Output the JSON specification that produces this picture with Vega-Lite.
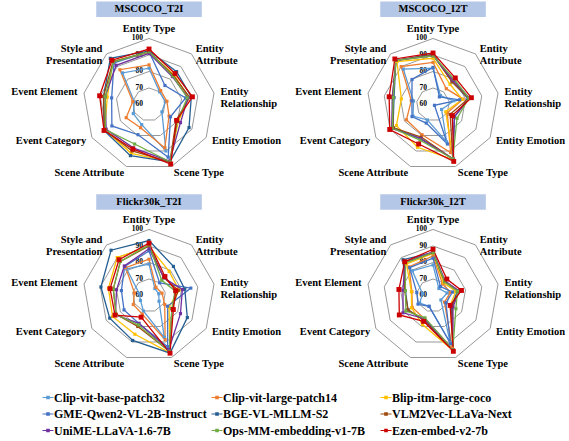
{
"$schema": "https://vega.github.io/schema/vega-lite/v6.json",
"padding": 0,
"background": "white",
"spacing": 0,
"config": {"view": {"stroke": null}, "font": "Liberation Serif",
  "legend": {"labelFont": "Liberation Serif", "labelFontSize": 12, "labelFontWeight": "bold", "labelColor": "black", "symbolSize": 121, "symbolStrokeWidth": 0, "labelOffset": 0, "columnPadding": 4, "rowPadding": 4.5, "labelLimit": 300, "symbolOpacity": 1, "padding": 0, "gridAlign": "all"}},
"datasets": {
"axes": [
{"k":0,"label":"Entity Type"},{"k":1,"label":"Entity\nAttribute"},{"k":2,"label":"Entity\nRelationship"},{"k":3,"label":"Entity Emotion"},{"k":4,"label":"Scene Type"},{"k":5,"label":"Scene Attribute"},{"k":6,"label":"Event Category"},{"k":7,"label":"Event Element"},{"k":8,"label":"Style and\nPresentation"}],
"ticks": [{"tick":60},{"tick":70},{"tick":80},{"tick":90},{"tick":100}],
"grid": [
{"ring":70,"k":0},{"ring":70,"k":1},{"ring":70,"k":2},{"ring":70,"k":3},{"ring":70,"k":4},{"ring":70,"k":5},{"ring":70,"k":6},{"ring":70,"k":7},{"ring":70,"k":8},
{"ring":80,"k":0},{"ring":80,"k":1},{"ring":80,"k":2},{"ring":80,"k":3},{"ring":80,"k":4},{"ring":80,"k":5},{"ring":80,"k":6},{"ring":80,"k":7},{"ring":80,"k":8},
{"ring":90,"k":0},{"ring":90,"k":1},{"ring":90,"k":2},{"ring":90,"k":3},{"ring":90,"k":4},{"ring":90,"k":5},{"ring":90,"k":6},{"ring":90,"k":7},{"ring":90,"k":8},
{"ring":100,"k":0},{"ring":100,"k":1},{"ring":100,"k":2},{"ring":100,"k":3},{"ring":100,"k":4},{"ring":100,"k":5},{"ring":100,"k":6},{"ring":100,"k":7},{"ring":100,"k":8}],
"scores": [
{"panel":"MSCOCO_T2I","model":"Clip-vit-base-patch32","axis":"Entity Type","value":82},
{"panel":"MSCOCO_T2I","model":"Clip-vit-base-patch32","axis":"Entity Attribute","value":70},
{"panel":"MSCOCO_T2I","model":"Clip-vit-base-patch32","axis":"Entity Relationship","value":70},
{"panel":"MSCOCO_T2I","model":"Clip-vit-base-patch32","axis":"Entity Emotion","value":69},
{"panel":"MSCOCO_T2I","model":"Clip-vit-base-patch32","axis":"Scene Type","value":90},
{"panel":"MSCOCO_T2I","model":"Clip-vit-base-patch32","axis":"Scene Attribute","value":73},
{"panel":"MSCOCO_T2I","model":"Clip-vit-base-patch32","axis":"Event Category","value":71},
{"panel":"MSCOCO_T2I","model":"Clip-vit-base-patch32","axis":"Event Element","value":69},
{"panel":"MSCOCO_T2I","model":"Clip-vit-base-patch32","axis":"Style and Presentation","value":85},
{"panel":"MSCOCO_T2I","model":"Clip-vit-large-patch14","axis":"Entity Type","value":84},
{"panel":"MSCOCO_T2I","model":"Clip-vit-large-patch14","axis":"Entity Attribute","value":71},
{"panel":"MSCOCO_T2I","model":"Clip-vit-large-patch14","axis":"Entity Relationship","value":71},
{"panel":"MSCOCO_T2I","model":"Clip-vit-large-patch14","axis":"Entity Emotion","value":74},
{"panel":"MSCOCO_T2I","model":"Clip-vit-large-patch14","axis":"Scene Type","value":88},
{"panel":"MSCOCO_T2I","model":"Clip-vit-large-patch14","axis":"Scene Attribute","value":75},
{"panel":"MSCOCO_T2I","model":"Clip-vit-large-patch14","axis":"Event Category","value":76},
{"panel":"MSCOCO_T2I","model":"Clip-vit-large-patch14","axis":"Event Element","value":70},
{"panel":"MSCOCO_T2I","model":"Clip-vit-large-patch14","axis":"Style and Presentation","value":87.5},
{"panel":"MSCOCO_T2I","model":"Blip-itm-large-coco","axis":"Entity Type","value":91.5},
{"panel":"MSCOCO_T2I","model":"Blip-itm-large-coco","axis":"Entity Attribute","value":83.5},
{"panel":"MSCOCO_T2I","model":"Blip-itm-large-coco","axis":"Entity Relationship","value":84.5},
{"panel":"MSCOCO_T2I","model":"Blip-itm-large-coco","axis":"Entity Emotion","value":80.5},
{"panel":"MSCOCO_T2I","model":"Blip-itm-large-coco","axis":"Scene Type","value":97},
{"panel":"MSCOCO_T2I","model":"Blip-itm-large-coco","axis":"Scene Attribute","value":91.5},
{"panel":"MSCOCO_T2I","model":"Blip-itm-large-coco","axis":"Event Category","value":91},
{"panel":"MSCOCO_T2I","model":"Blip-itm-large-coco","axis":"Event Element","value":85.7},
{"panel":"MSCOCO_T2I","model":"Blip-itm-large-coco","axis":"Style and Presentation","value":94},
{"panel":"MSCOCO_T2I","model":"GME-Qwen2-VL-2B-Instruct","axis":"Entity Type","value":92},
{"panel":"MSCOCO_T2I","model":"GME-Qwen2-VL-2B-Instruct","axis":"Entity Attribute","value":75},
{"panel":"MSCOCO_T2I","model":"GME-Qwen2-VL-2B-Instruct","axis":"Entity Relationship","value":82.5},
{"panel":"MSCOCO_T2I","model":"GME-Qwen2-VL-2B-Instruct","axis":"Entity Emotion","value":75},
{"panel":"MSCOCO_T2I","model":"GME-Qwen2-VL-2B-Instruct","axis":"Scene Type","value":94},
{"panel":"MSCOCO_T2I","model":"GME-Qwen2-VL-2B-Instruct","axis":"Scene Attribute","value":79.5},
{"panel":"MSCOCO_T2I","model":"GME-Qwen2-VL-2B-Instruct","axis":"Event Category","value":86},
{"panel":"MSCOCO_T2I","model":"GME-Qwen2-VL-2B-Instruct","axis":"Event Element","value":83},
{"panel":"MSCOCO_T2I","model":"GME-Qwen2-VL-2B-Instruct","axis":"Style and Presentation","value":93},
{"panel":"MSCOCO_T2I","model":"BGE-VL-MLLM-S2","axis":"Entity Type","value":92.5},
{"panel":"MSCOCO_T2I","model":"BGE-VL-MLLM-S2","axis":"Entity Attribute","value":86},
{"panel":"MSCOCO_T2I","model":"BGE-VL-MLLM-S2","axis":"Entity Relationship","value":86},
{"panel":"MSCOCO_T2I","model":"BGE-VL-MLLM-S2","axis":"Entity Emotion","value":88},
{"panel":"MSCOCO_T2I","model":"BGE-VL-MLLM-S2","axis":"Scene Type","value":97},
{"panel":"MSCOCO_T2I","model":"BGE-VL-MLLM-S2","axis":"Scene Attribute","value":93},
{"panel":"MSCOCO_T2I","model":"BGE-VL-MLLM-S2","axis":"Event Category","value":91.5},
{"panel":"MSCOCO_T2I","model":"BGE-VL-MLLM-S2","axis":"Event Element","value":88},
{"panel":"MSCOCO_T2I","model":"BGE-VL-MLLM-S2","axis":"Style and Presentation","value":96.5},
{"panel":"MSCOCO_T2I","model":"VLM2Vec-LLaVa-Next","axis":"Entity Type","value":92},
{"panel":"MSCOCO_T2I","model":"VLM2Vec-LLaVa-Next","axis":"Entity Attribute","value":83},
{"panel":"MSCOCO_T2I","model":"VLM2Vec-LLaVa-Next","axis":"Entity Relationship","value":85},
{"panel":"MSCOCO_T2I","model":"VLM2Vec-LLaVa-Next","axis":"Entity Emotion","value":79},
{"panel":"MSCOCO_T2I","model":"VLM2Vec-LLaVa-Next","axis":"Scene Type","value":97},
{"panel":"MSCOCO_T2I","model":"VLM2Vec-LLaVa-Next","axis":"Scene Attribute","value":90},
{"panel":"MSCOCO_T2I","model":"VLM2Vec-LLaVa-Next","axis":"Event Category","value":91},
{"panel":"MSCOCO_T2I","model":"VLM2Vec-LLaVa-Next","axis":"Event Element","value":88},
{"panel":"MSCOCO_T2I","model":"VLM2Vec-LLaVa-Next","axis":"Style and Presentation","value":94},
{"panel":"MSCOCO_T2I","model":"UniME-LLaVA-1.6-7B","axis":"Entity Type","value":91},
{"panel":"MSCOCO_T2I","model":"UniME-LLaVA-1.6-7B","axis":"Entity Attribute","value":82},
{"panel":"MSCOCO_T2I","model":"UniME-LLaVA-1.6-7B","axis":"Entity Relationship","value":84},
{"panel":"MSCOCO_T2I","model":"UniME-LLaVA-1.6-7B","axis":"Entity Emotion","value":82},
{"panel":"MSCOCO_T2I","model":"UniME-LLaVA-1.6-7B","axis":"Scene Type","value":96.5},
{"panel":"MSCOCO_T2I","model":"UniME-LLaVA-1.6-7B","axis":"Scene Attribute","value":88},
{"panel":"MSCOCO_T2I","model":"UniME-LLaVA-1.6-7B","axis":"Event Category","value":90},
{"panel":"MSCOCO_T2I","model":"UniME-LLaVA-1.6-7B","axis":"Event Element","value":87},
{"panel":"MSCOCO_T2I","model":"UniME-LLaVA-1.6-7B","axis":"Style and Presentation","value":91},
{"panel":"MSCOCO_T2I","model":"Ops-MM-embedding-v1-7B","axis":"Entity Type","value":92},
{"panel":"MSCOCO_T2I","model":"Ops-MM-embedding-v1-7B","axis":"Entity Attribute","value":82.5},
{"panel":"MSCOCO_T2I","model":"Ops-MM-embedding-v1-7B","axis":"Entity Relationship","value":83.5},
{"panel":"MSCOCO_T2I","model":"Ops-MM-embedding-v1-7B","axis":"Entity Emotion","value":80},
{"panel":"MSCOCO_T2I","model":"Ops-MM-embedding-v1-7B","axis":"Scene Type","value":97},
{"panel":"MSCOCO_T2I","model":"Ops-MM-embedding-v1-7B","axis":"Scene Attribute","value":85.5},
{"panel":"MSCOCO_T2I","model":"Ops-MM-embedding-v1-7B","axis":"Event Category","value":90.5},
{"panel":"MSCOCO_T2I","model":"Ops-MM-embedding-v1-7B","axis":"Event Element","value":87},
{"panel":"MSCOCO_T2I","model":"Ops-MM-embedding-v1-7B","axis":"Style and Presentation","value":93.5},
{"panel":"MSCOCO_T2I","model":"Ezen-embed-v2-7b","axis":"Entity Type","value":93.6},
{"panel":"MSCOCO_T2I","model":"Ezen-embed-v2-7b","axis":"Entity Attribute","value":84.5},
{"panel":"MSCOCO_T2I","model":"Ezen-embed-v2-7b","axis":"Entity Relationship","value":86.7},
{"panel":"MSCOCO_T2I","model":"Ezen-embed-v2-7b","axis":"Entity Emotion","value":79.3},
{"panel":"MSCOCO_T2I","model":"Ezen-embed-v2-7b","axis":"Scene Type","value":98.4},
{"panel":"MSCOCO_T2I","model":"Ezen-embed-v2-7b","axis":"Scene Attribute","value":88.7},
{"panel":"MSCOCO_T2I","model":"Ezen-embed-v2-7b","axis":"Event Category","value":91.5},
{"panel":"MSCOCO_T2I","model":"Ezen-embed-v2-7b","axis":"Event Element","value":90.4},
{"panel":"MSCOCO_T2I","model":"Ezen-embed-v2-7b","axis":"Style and Presentation","value":95},
{"panel":"MSCOCO_I2T","model":"Clip-vit-base-patch32","axis":"Entity Type","value":82},
{"panel":"MSCOCO_I2T","model":"Clip-vit-base-patch32","axis":"Entity Attribute","value":67},
{"panel":"MSCOCO_I2T","model":"Clip-vit-base-patch32","axis":"Entity Relationship","value":72.7},
{"panel":"MSCOCO_I2T","model":"Clip-vit-base-patch32","axis":"Entity Emotion","value":66},
{"panel":"MSCOCO_I2T","model":"Clip-vit-base-patch32","axis":"Scene Type","value":84},
{"panel":"MSCOCO_I2T","model":"Clip-vit-base-patch32","axis":"Scene Attribute","value":70},
{"panel":"MSCOCO_I2T","model":"Clip-vit-base-patch32","axis":"Event Category","value":74},
{"panel":"MSCOCO_I2T","model":"Clip-vit-base-patch32","axis":"Event Element","value":72},
{"panel":"MSCOCO_I2T","model":"Clip-vit-base-patch32","axis":"Style and Presentation","value":88},
{"panel":"MSCOCO_I2T","model":"Clip-vit-large-patch14","axis":"Entity Type","value":85.5},
{"panel":"MSCOCO_I2T","model":"Clip-vit-large-patch14","axis":"Entity Attribute","value":72.5},
{"panel":"MSCOCO_I2T","model":"Clip-vit-large-patch14","axis":"Entity Relationship","value":78.5},
{"panel":"MSCOCO_I2T","model":"Clip-vit-large-patch14","axis":"Entity Emotion","value":70},
{"panel":"MSCOCO_I2T","model":"Clip-vit-large-patch14","axis":"Scene Type","value":91},
{"panel":"MSCOCO_I2T","model":"Clip-vit-large-patch14","axis":"Scene Attribute","value":79.5},
{"panel":"MSCOCO_I2T","model":"Clip-vit-large-patch14","axis":"Event Category","value":78.6},
{"panel":"MSCOCO_I2T","model":"Clip-vit-large-patch14","axis":"Event Element","value":73.4},
{"panel":"MSCOCO_I2T","model":"Clip-vit-large-patch14","axis":"Style and Presentation","value":90},
{"panel":"MSCOCO_I2T","model":"Blip-itm-large-coco","axis":"Entity Type","value":88},
{"panel":"MSCOCO_I2T","model":"Blip-itm-large-coco","axis":"Entity Attribute","value":76},
{"panel":"MSCOCO_I2T","model":"Blip-itm-large-coco","axis":"Entity Relationship","value":78},
{"panel":"MSCOCO_I2T","model":"Blip-itm-large-coco","axis":"Entity Emotion","value":68.9},
{"panel":"MSCOCO_I2T","model":"Blip-itm-large-coco","axis":"Scene Type","value":95.5},
{"panel":"MSCOCO_I2T","model":"Blip-itm-large-coco","axis":"Scene Attribute","value":87.6},
{"panel":"MSCOCO_I2T","model":"Blip-itm-large-coco","axis":"Event Category","value":85.6},
{"panel":"MSCOCO_I2T","model":"Blip-itm-large-coco","axis":"Event Element","value":79.5},
{"panel":"MSCOCO_I2T","model":"Blip-itm-large-coco","axis":"Style and Presentation","value":94},
{"panel":"MSCOCO_I2T","model":"GME-Qwen2-VL-2B-Instruct","axis":"Entity Type","value":82.5},
{"panel":"MSCOCO_I2T","model":"GME-Qwen2-VL-2B-Instruct","axis":"Entity Attribute","value":66},
{"panel":"MSCOCO_I2T","model":"GME-Qwen2-VL-2B-Instruct","axis":"Entity Relationship","value":76.4},
{"panel":"MSCOCO_I2T","model":"GME-Qwen2-VL-2B-Instruct","axis":"Entity Emotion","value":61},
{"panel":"MSCOCO_I2T","model":"GME-Qwen2-VL-2B-Instruct","axis":"Scene Type","value":85.5},
{"panel":"MSCOCO_I2T","model":"GME-Qwen2-VL-2B-Instruct","axis":"Scene Attribute","value":72},
{"panel":"MSCOCO_I2T","model":"GME-Qwen2-VL-2B-Instruct","axis":"Event Category","value":74.7},
{"panel":"MSCOCO_I2T","model":"GME-Qwen2-VL-2B-Instruct","axis":"Event Element","value":73},
{"panel":"MSCOCO_I2T","model":"GME-Qwen2-VL-2B-Instruct","axis":"Style and Presentation","value":79.8},
{"panel":"MSCOCO_I2T","model":"BGE-VL-MLLM-S2","axis":"Entity Type","value":90.5},
{"panel":"MSCOCO_I2T","model":"BGE-VL-MLLM-S2","axis":"Entity Attribute","value":78},
{"panel":"MSCOCO_I2T","model":"BGE-VL-MLLM-S2","axis":"Entity Relationship","value":81.5},
{"panel":"MSCOCO_I2T","model":"BGE-VL-MLLM-S2","axis":"Entity Emotion","value":75},
{"panel":"MSCOCO_I2T","model":"BGE-VL-MLLM-S2","axis":"Scene Type","value":95},
{"panel":"MSCOCO_I2T","model":"BGE-VL-MLLM-S2","axis":"Scene Attribute","value":82},
{"panel":"MSCOCO_I2T","model":"BGE-VL-MLLM-S2","axis":"Event Category","value":88},
{"panel":"MSCOCO_I2T","model":"BGE-VL-MLLM-S2","axis":"Event Element","value":84},
{"panel":"MSCOCO_I2T","model":"BGE-VL-MLLM-S2","axis":"Style and Presentation","value":95},
{"panel":"MSCOCO_I2T","model":"VLM2Vec-LLaVa-Next","axis":"Entity Type","value":90},
{"panel":"MSCOCO_I2T","model":"VLM2Vec-LLaVa-Next","axis":"Entity Attribute","value":78},
{"panel":"MSCOCO_I2T","model":"VLM2Vec-LLaVa-Next","axis":"Entity Relationship","value":82},
{"panel":"MSCOCO_I2T","model":"VLM2Vec-LLaVa-Next","axis":"Entity Emotion","value":72},
{"panel":"MSCOCO_I2T","model":"VLM2Vec-LLaVa-Next","axis":"Scene Type","value":95},
{"panel":"MSCOCO_I2T","model":"VLM2Vec-LLaVa-Next","axis":"Scene Attribute","value":81},
{"panel":"MSCOCO_I2T","model":"VLM2Vec-LLaVa-Next","axis":"Event Category","value":88},
{"panel":"MSCOCO_I2T","model":"VLM2Vec-LLaVa-Next","axis":"Event Element","value":85},
{"panel":"MSCOCO_I2T","model":"VLM2Vec-LLaVa-Next","axis":"Style and Presentation","value":95},
{"panel":"MSCOCO_I2T","model":"UniME-LLaVA-1.6-7B","axis":"Entity Type","value":89.5},
{"panel":"MSCOCO_I2T","model":"UniME-LLaVA-1.6-7B","axis":"Entity Attribute","value":79},
{"panel":"MSCOCO_I2T","model":"UniME-LLaVA-1.6-7B","axis":"Entity Relationship","value":82.5},
{"panel":"MSCOCO_I2T","model":"UniME-LLaVA-1.6-7B","axis":"Entity Emotion","value":75},
{"panel":"MSCOCO_I2T","model":"UniME-LLaVA-1.6-7B","axis":"Scene Type","value":95},
{"panel":"MSCOCO_I2T","model":"UniME-LLaVA-1.6-7B","axis":"Scene Attribute","value":82},
{"panel":"MSCOCO_I2T","model":"UniME-LLaVA-1.6-7B","axis":"Event Category","value":89},
{"panel":"MSCOCO_I2T","model":"UniME-LLaVA-1.6-7B","axis":"Event Element","value":85},
{"panel":"MSCOCO_I2T","model":"UniME-LLaVA-1.6-7B","axis":"Style and Presentation","value":95},
{"panel":"MSCOCO_I2T","model":"Ops-MM-embedding-v1-7B","axis":"Entity Type","value":89.5},
{"panel":"MSCOCO_I2T","model":"Ops-MM-embedding-v1-7B","axis":"Entity Attribute","value":80},
{"panel":"MSCOCO_I2T","model":"Ops-MM-embedding-v1-7B","axis":"Entity Relationship","value":82},
{"panel":"MSCOCO_I2T","model":"Ops-MM-embedding-v1-7B","axis":"Entity Emotion","value":76.8},
{"panel":"MSCOCO_I2T","model":"Ops-MM-embedding-v1-7B","axis":"Scene Type","value":95},
{"panel":"MSCOCO_I2T","model":"Ops-MM-embedding-v1-7B","axis":"Scene Attribute","value":83},
{"panel":"MSCOCO_I2T","model":"Ops-MM-embedding-v1-7B","axis":"Event Category","value":88.5},
{"panel":"MSCOCO_I2T","model":"Ops-MM-embedding-v1-7B","axis":"Event Element","value":84.5},
{"panel":"MSCOCO_I2T","model":"Ops-MM-embedding-v1-7B","axis":"Style and Presentation","value":95},
{"panel":"MSCOCO_I2T","model":"Ezen-embed-v2-7b","axis":"Entity Type","value":91.2},
{"panel":"MSCOCO_I2T","model":"Ezen-embed-v2-7b","axis":"Entity Attribute","value":81},
{"panel":"MSCOCO_I2T","model":"Ezen-embed-v2-7b","axis":"Entity Relationship","value":83.6},
{"panel":"MSCOCO_I2T","model":"Ezen-embed-v2-7b","axis":"Entity Emotion","value":73.5},
{"panel":"MSCOCO_I2T","model":"Ezen-embed-v2-7b","axis":"Scene Type","value":96.7},
{"panel":"MSCOCO_I2T","model":"Ezen-embed-v2-7b","axis":"Scene Attribute","value":85.5},
{"panel":"MSCOCO_I2T","model":"Ezen-embed-v2-7b","axis":"Event Category","value":90.3},
{"panel":"MSCOCO_I2T","model":"Ezen-embed-v2-7b","axis":"Event Element","value":87},
{"panel":"MSCOCO_I2T","model":"Ezen-embed-v2-7b","axis":"Style and Presentation","value":96},
{"panel":"Flickr30k_T2I","model":"Clip-vit-base-patch32","axis":"Entity Type","value":79},
{"panel":"Flickr30k_T2I","model":"Clip-vit-base-patch32","axis":"Entity Attribute","value":65.5},
{"panel":"Flickr30k_T2I","model":"Clip-vit-base-patch32","axis":"Entity Relationship","value":66},
{"panel":"Flickr30k_T2I","model":"Clip-vit-base-patch32","axis":"Entity Emotion","value":67},
{"panel":"Flickr30k_T2I","model":"Clip-vit-base-patch32","axis":"Scene Type","value":87},
{"panel":"Flickr30k_T2I","model":"Clip-vit-base-patch32","axis":"Scene Attribute","value":70},
{"panel":"Flickr30k_T2I","model":"Clip-vit-base-patch32","axis":"Event Category","value":66},
{"panel":"Flickr30k_T2I","model":"Clip-vit-base-patch32","axis":"Event Element","value":66},
{"panel":"Flickr30k_T2I","model":"Clip-vit-base-patch32","axis":"Style and Presentation","value":81},
{"panel":"Flickr30k_T2I","model":"Clip-vit-large-patch14","axis":"Entity Type","value":82},
{"panel":"Flickr30k_T2I","model":"Clip-vit-large-patch14","axis":"Entity Attribute","value":66.5},
{"panel":"Flickr30k_T2I","model":"Clip-vit-large-patch14","axis":"Entity Relationship","value":68},
{"panel":"Flickr30k_T2I","model":"Clip-vit-large-patch14","axis":"Entity Emotion","value":71},
{"panel":"Flickr30k_T2I","model":"Clip-vit-large-patch14","axis":"Scene Type","value":88.5},
{"panel":"Flickr30k_T2I","model":"Clip-vit-large-patch14","axis":"Scene Attribute","value":72},
{"panel":"Flickr30k_T2I","model":"Clip-vit-large-patch14","axis":"Event Category","value":71},
{"panel":"Flickr30k_T2I","model":"Clip-vit-large-patch14","axis":"Event Element","value":69},
{"panel":"Flickr30k_T2I","model":"Clip-vit-large-patch14","axis":"Style and Presentation","value":82},
{"panel":"Flickr30k_T2I","model":"Blip-itm-large-coco","axis":"Entity Type","value":89.7},
{"panel":"Flickr30k_T2I","model":"Blip-itm-large-coco","axis":"Entity Attribute","value":79},
{"panel":"Flickr30k_T2I","model":"Blip-itm-large-coco","axis":"Entity Relationship","value":78.5},
{"panel":"Flickr30k_T2I","model":"Blip-itm-large-coco","axis":"Entity Emotion","value":74},
{"panel":"Flickr30k_T2I","model":"Blip-itm-large-coco","axis":"Scene Type","value":97},
{"panel":"Flickr30k_T2I","model":"Blip-itm-large-coco","axis":"Scene Attribute","value":85},
{"panel":"Flickr30k_T2I","model":"Blip-itm-large-coco","axis":"Event Category","value":85.5},
{"panel":"Flickr30k_T2I","model":"Blip-itm-large-coco","axis":"Event Element","value":85},
{"panel":"Flickr30k_T2I","model":"Blip-itm-large-coco","axis":"Style and Presentation","value":90},
{"panel":"Flickr30k_T2I","model":"GME-Qwen2-VL-2B-Instruct","axis":"Entity Type","value":87},
{"panel":"Flickr30k_T2I","model":"GME-Qwen2-VL-2B-Instruct","axis":"Entity Attribute","value":70},
{"panel":"Flickr30k_T2I","model":"GME-Qwen2-VL-2B-Instruct","axis":"Entity Relationship","value":85.7},
{"panel":"Flickr30k_T2I","model":"GME-Qwen2-VL-2B-Instruct","axis":"Entity Emotion","value":73},
{"panel":"Flickr30k_T2I","model":"GME-Qwen2-VL-2B-Instruct","axis":"Scene Type","value":93},
{"panel":"Flickr30k_T2I","model":"GME-Qwen2-VL-2B-Instruct","axis":"Scene Attribute","value":78},
{"panel":"Flickr30k_T2I","model":"GME-Qwen2-VL-2B-Instruct","axis":"Event Category","value":77.5},
{"panel":"Flickr30k_T2I","model":"GME-Qwen2-VL-2B-Instruct","axis":"Event Element","value":77},
{"panel":"Flickr30k_T2I","model":"GME-Qwen2-VL-2B-Instruct","axis":"Style and Presentation","value":83},
{"panel":"Flickr30k_T2I","model":"BGE-VL-MLLM-S2","axis":"Entity Type","value":93.3},
{"panel":"Flickr30k_T2I","model":"BGE-VL-MLLM-S2","axis":"Entity Attribute","value":83},
{"panel":"Flickr30k_T2I","model":"BGE-VL-MLLM-S2","axis":"Entity Relationship","value":82},
{"panel":"Flickr30k_T2I","model":"BGE-VL-MLLM-S2","axis":"Entity Emotion","value":86.8},
{"panel":"Flickr30k_T2I","model":"BGE-VL-MLLM-S2","axis":"Scene Type","value":97.2},
{"panel":"Flickr30k_T2I","model":"BGE-VL-MLLM-S2","axis":"Scene Attribute","value":89},
{"panel":"Flickr30k_T2I","model":"BGE-VL-MLLM-S2","axis":"Event Category","value":87.5},
{"panel":"Flickr30k_T2I","model":"BGE-VL-MLLM-S2","axis":"Event Element","value":89.6},
{"panel":"Flickr30k_T2I","model":"BGE-VL-MLLM-S2","axis":"Style and Presentation","value":95.8},
{"panel":"Flickr30k_T2I","model":"VLM2Vec-LLaVa-Next","axis":"Entity Type","value":90},
{"panel":"Flickr30k_T2I","model":"VLM2Vec-LLaVa-Next","axis":"Entity Attribute","value":74},
{"panel":"Flickr30k_T2I","model":"VLM2Vec-LLaVa-Next","axis":"Entity Relationship","value":78},
{"panel":"Flickr30k_T2I","model":"VLM2Vec-LLaVa-Next","axis":"Entity Emotion","value":76},
{"panel":"Flickr30k_T2I","model":"VLM2Vec-LLaVa-Next","axis":"Scene Type","value":96},
{"panel":"Flickr30k_T2I","model":"VLM2Vec-LLaVa-Next","axis":"Scene Attribute","value":80},
{"panel":"Flickr30k_T2I","model":"VLM2Vec-LLaVa-Next","axis":"Event Category","value":83},
{"panel":"Flickr30k_T2I","model":"VLM2Vec-LLaVa-Next","axis":"Event Element","value":82},
{"panel":"Flickr30k_T2I","model":"VLM2Vec-LLaVa-Next","axis":"Style and Presentation","value":87},
{"panel":"Flickr30k_T2I","model":"UniME-LLaVA-1.6-7B","axis":"Entity Type","value":88.3},
{"panel":"Flickr30k_T2I","model":"UniME-LLaVA-1.6-7B","axis":"Entity Attribute","value":74},
{"panel":"Flickr30k_T2I","model":"UniME-LLaVA-1.6-7B","axis":"Entity Relationship","value":80.5},
{"panel":"Flickr30k_T2I","model":"UniME-LLaVA-1.6-7B","axis":"Entity Emotion","value":82},
{"panel":"Flickr30k_T2I","model":"UniME-LLaVA-1.6-7B","axis":"Scene Type","value":95},
{"panel":"Flickr30k_T2I","model":"UniME-LLaVA-1.6-7B","axis":"Scene Attribute","value":78},
{"panel":"Flickr30k_T2I","model":"UniME-LLaVA-1.6-7B","axis":"Event Category","value":83.5},
{"panel":"Flickr30k_T2I","model":"UniME-LLaVA-1.6-7B","axis":"Event Element","value":80},
{"panel":"Flickr30k_T2I","model":"UniME-LLaVA-1.6-7B","axis":"Style and Presentation","value":83.3},
{"panel":"Flickr30k_T2I","model":"Ops-MM-embedding-v1-7B","axis":"Entity Type","value":90.7},
{"panel":"Flickr30k_T2I","model":"Ops-MM-embedding-v1-7B","axis":"Entity Attribute","value":72},
{"panel":"Flickr30k_T2I","model":"Ops-MM-embedding-v1-7B","axis":"Entity Relationship","value":76},
{"panel":"Flickr30k_T2I","model":"Ops-MM-embedding-v1-7B","axis":"Entity Emotion","value":76},
{"panel":"Flickr30k_T2I","model":"Ops-MM-embedding-v1-7B","axis":"Scene Type","value":96},
{"panel":"Flickr30k_T2I","model":"Ops-MM-embedding-v1-7B","axis":"Scene Attribute","value":79},
{"panel":"Flickr30k_T2I","model":"Ops-MM-embedding-v1-7B","axis":"Event Category","value":83},
{"panel":"Flickr30k_T2I","model":"Ops-MM-embedding-v1-7B","axis":"Event Element","value":82},
{"panel":"Flickr30k_T2I","model":"Ops-MM-embedding-v1-7B","axis":"Style and Presentation","value":87},
{"panel":"Flickr30k_T2I","model":"Ezen-embed-v2-7b","axis":"Entity Type","value":91.7},
{"panel":"Flickr30k_T2I","model":"Ezen-embed-v2-7b","axis":"Entity Attribute","value":75},
{"panel":"Flickr30k_T2I","model":"Ezen-embed-v2-7b","axis":"Entity Relationship","value":76.4},
{"panel":"Flickr30k_T2I","model":"Ezen-embed-v2-7b","axis":"Entity Emotion","value":77},
{"panel":"Flickr30k_T2I","model":"Ezen-embed-v2-7b","axis":"Scene Type","value":97.2},
{"panel":"Flickr30k_T2I","model":"Ezen-embed-v2-7b","axis":"Scene Attribute","value":74},
{"panel":"Flickr30k_T2I","model":"Ezen-embed-v2-7b","axis":"Event Category","value":83.8},
{"panel":"Flickr30k_T2I","model":"Ezen-embed-v2-7b","axis":"Event Element","value":84},
{"panel":"Flickr30k_T2I","model":"Ezen-embed-v2-7b","axis":"Style and Presentation","value":88.3},
{"panel":"Flickr30k_I2T","model":"Clip-vit-base-patch32","axis":"Entity Type","value":78.5},
{"panel":"Flickr30k_I2T","model":"Clip-vit-base-patch32","axis":"Entity Attribute","value":65.5},
{"panel":"Flickr30k_I2T","model":"Clip-vit-base-patch32","axis":"Entity Relationship","value":68.7},
{"panel":"Flickr30k_I2T","model":"Clip-vit-base-patch32","axis":"Entity Emotion","value":65.5},
{"panel":"Flickr30k_I2T","model":"Clip-vit-base-patch32","axis":"Scene Type","value":90.5},
{"panel":"Flickr30k_I2T","model":"Clip-vit-base-patch32","axis":"Scene Attribute","value":67},
{"panel":"Flickr30k_I2T","model":"Clip-vit-base-patch32","axis":"Event Category","value":69.3},
{"panel":"Flickr30k_I2T","model":"Clip-vit-base-patch32","axis":"Event Element","value":66.5},
{"panel":"Flickr30k_I2T","model":"Clip-vit-base-patch32","axis":"Style and Presentation","value":79.5},
{"panel":"Flickr30k_I2T","model":"Clip-vit-large-patch14","axis":"Entity Type","value":84},
{"panel":"Flickr30k_I2T","model":"Clip-vit-large-patch14","axis":"Entity Attribute","value":69},
{"panel":"Flickr30k_I2T","model":"Clip-vit-large-patch14","axis":"Entity Relationship","value":70.7},
{"panel":"Flickr30k_I2T","model":"Clip-vit-large-patch14","axis":"Entity Emotion","value":68},
{"panel":"Flickr30k_I2T","model":"Clip-vit-large-patch14","axis":"Scene Type","value":94},
{"panel":"Flickr30k_I2T","model":"Clip-vit-large-patch14","axis":"Scene Attribute","value":75},
{"panel":"Flickr30k_I2T","model":"Clip-vit-large-patch14","axis":"Event Category","value":74.5},
{"panel":"Flickr30k_I2T","model":"Clip-vit-large-patch14","axis":"Event Element","value":73},
{"panel":"Flickr30k_I2T","model":"Clip-vit-large-patch14","axis":"Style and Presentation","value":82.6},
{"panel":"Flickr30k_I2T","model":"Blip-itm-large-coco","axis":"Entity Type","value":85.5},
{"panel":"Flickr30k_I2T","model":"Blip-itm-large-coco","axis":"Entity Attribute","value":70},
{"panel":"Flickr30k_I2T","model":"Blip-itm-large-coco","axis":"Entity Relationship","value":74},
{"panel":"Flickr30k_I2T","model":"Blip-itm-large-coco","axis":"Entity Emotion","value":72},
{"panel":"Flickr30k_I2T","model":"Blip-itm-large-coco","axis":"Scene Type","value":95.5},
{"panel":"Flickr30k_I2T","model":"Blip-itm-large-coco","axis":"Scene Attribute","value":78.7},
{"panel":"Flickr30k_I2T","model":"Blip-itm-large-coco","axis":"Event Category","value":75},
{"panel":"Flickr30k_I2T","model":"Blip-itm-large-coco","axis":"Event Element","value":73.3},
{"panel":"Flickr30k_I2T","model":"Blip-itm-large-coco","axis":"Style and Presentation","value":85},
{"panel":"Flickr30k_I2T","model":"GME-Qwen2-VL-2B-Instruct","axis":"Entity Type","value":82.6},
{"panel":"Flickr30k_I2T","model":"GME-Qwen2-VL-2B-Instruct","axis":"Entity Attribute","value":67},
{"panel":"Flickr30k_I2T","model":"GME-Qwen2-VL-2B-Instruct","axis":"Entity Relationship","value":72},
{"panel":"Flickr30k_I2T","model":"GME-Qwen2-VL-2B-Instruct","axis":"Entity Emotion","value":69},
{"panel":"Flickr30k_I2T","model":"GME-Qwen2-VL-2B-Instruct","axis":"Scene Type","value":91},
{"panel":"Flickr30k_I2T","model":"GME-Qwen2-VL-2B-Instruct","axis":"Scene Attribute","value":67},
{"panel":"Flickr30k_I2T","model":"GME-Qwen2-VL-2B-Instruct","axis":"Event Category","value":70.5},
{"panel":"Flickr30k_I2T","model":"GME-Qwen2-VL-2B-Instruct","axis":"Event Element","value":70},
{"panel":"Flickr30k_I2T","model":"GME-Qwen2-VL-2B-Instruct","axis":"Style and Presentation","value":82},
{"panel":"Flickr30k_I2T","model":"BGE-VL-MLLM-S2","axis":"Entity Type","value":86},
{"panel":"Flickr30k_I2T","model":"BGE-VL-MLLM-S2","axis":"Entity Attribute","value":71},
{"panel":"Flickr30k_I2T","model":"BGE-VL-MLLM-S2","axis":"Entity Relationship","value":75},
{"panel":"Flickr30k_I2T","model":"BGE-VL-MLLM-S2","axis":"Entity Emotion","value":73},
{"panel":"Flickr30k_I2T","model":"BGE-VL-MLLM-S2","axis":"Scene Type","value":95},
{"panel":"Flickr30k_I2T","model":"BGE-VL-MLLM-S2","axis":"Scene Attribute","value":76},
{"panel":"Flickr30k_I2T","model":"BGE-VL-MLLM-S2","axis":"Event Category","value":77.5},
{"panel":"Flickr30k_I2T","model":"BGE-VL-MLLM-S2","axis":"Event Element","value":77},
{"panel":"Flickr30k_I2T","model":"BGE-VL-MLLM-S2","axis":"Style and Presentation","value":88.3},
{"panel":"Flickr30k_I2T","model":"VLM2Vec-LLaVa-Next","axis":"Entity Type","value":86},
{"panel":"Flickr30k_I2T","model":"VLM2Vec-LLaVa-Next","axis":"Entity Attribute","value":71},
{"panel":"Flickr30k_I2T","model":"VLM2Vec-LLaVa-Next","axis":"Entity Relationship","value":76},
{"panel":"Flickr30k_I2T","model":"VLM2Vec-LLaVa-Next","axis":"Entity Emotion","value":73.5},
{"panel":"Flickr30k_I2T","model":"VLM2Vec-LLaVa-Next","axis":"Scene Type","value":95},
{"panel":"Flickr30k_I2T","model":"VLM2Vec-LLaVa-Next","axis":"Scene Attribute","value":76},
{"panel":"Flickr30k_I2T","model":"VLM2Vec-LLaVa-Next","axis":"Event Category","value":77.5},
{"panel":"Flickr30k_I2T","model":"VLM2Vec-LLaVa-Next","axis":"Event Element","value":77.5},
{"panel":"Flickr30k_I2T","model":"VLM2Vec-LLaVa-Next","axis":"Style and Presentation","value":86},
{"panel":"Flickr30k_I2T","model":"UniME-LLaVA-1.6-7B","axis":"Entity Type","value":86.5},
{"panel":"Flickr30k_I2T","model":"UniME-LLaVA-1.6-7B","axis":"Entity Attribute","value":71.5},
{"panel":"Flickr30k_I2T","model":"UniME-LLaVA-1.6-7B","axis":"Entity Relationship","value":76},
{"panel":"Flickr30k_I2T","model":"UniME-LLaVA-1.6-7B","axis":"Entity Emotion","value":74},
{"panel":"Flickr30k_I2T","model":"UniME-LLaVA-1.6-7B","axis":"Scene Type","value":95},
{"panel":"Flickr30k_I2T","model":"UniME-LLaVA-1.6-7B","axis":"Scene Attribute","value":75},
{"panel":"Flickr30k_I2T","model":"UniME-LLaVA-1.6-7B","axis":"Event Category","value":81},
{"panel":"Flickr30k_I2T","model":"UniME-LLaVA-1.6-7B","axis":"Event Element","value":78.5},
{"panel":"Flickr30k_I2T","model":"UniME-LLaVA-1.6-7B","axis":"Style and Presentation","value":86.5},
{"panel":"Flickr30k_I2T","model":"Ops-MM-embedding-v1-7B","axis":"Entity Type","value":86},
{"panel":"Flickr30k_I2T","model":"Ops-MM-embedding-v1-7B","axis":"Entity Attribute","value":71},
{"panel":"Flickr30k_I2T","model":"Ops-MM-embedding-v1-7B","axis":"Entity Relationship","value":75},
{"panel":"Flickr30k_I2T","model":"Ops-MM-embedding-v1-7B","axis":"Entity Emotion","value":76},
{"panel":"Flickr30k_I2T","model":"Ops-MM-embedding-v1-7B","axis":"Scene Type","value":95},
{"panel":"Flickr30k_I2T","model":"Ops-MM-embedding-v1-7B","axis":"Scene Attribute","value":74.4},
{"panel":"Flickr30k_I2T","model":"Ops-MM-embedding-v1-7B","axis":"Event Category","value":79},
{"panel":"Flickr30k_I2T","model":"Ops-MM-embedding-v1-7B","axis":"Event Element","value":77},
{"panel":"Flickr30k_I2T","model":"Ops-MM-embedding-v1-7B","axis":"Style and Presentation","value":86},
{"panel":"Flickr30k_I2T","model":"Ezen-embed-v2-7b","axis":"Entity Type","value":88},
{"panel":"Flickr30k_I2T","model":"Ezen-embed-v2-7b","axis":"Entity Attribute","value":73},
{"panel":"Flickr30k_I2T","model":"Ezen-embed-v2-7b","axis":"Entity Relationship","value":77.5},
{"panel":"Flickr30k_I2T","model":"Ezen-embed-v2-7b","axis":"Entity Emotion","value":72},
{"panel":"Flickr30k_I2T","model":"Ezen-embed-v2-7b","axis":"Scene Type","value":96},
{"panel":"Flickr30k_I2T","model":"Ezen-embed-v2-7b","axis":"Scene Attribute","value":76.7},
{"panel":"Flickr30k_I2T","model":"Ezen-embed-v2-7b","axis":"Event Category","value":83.6},
{"panel":"Flickr30k_I2T","model":"Ezen-embed-v2-7b","axis":"Event Element","value":81},
{"panel":"Flickr30k_I2T","model":"Ezen-embed-v2-7b","axis":"Style and Presentation","value":86.7}
]
},
"vconcat": [
{"spacing": 0, "hconcat": [
{"width": 284, "height": 191,
 "layer": [
  {"data": {"values": [{"title": "MSCOCO_T2I"}]}, "mark": {"type": "rect", "color": "#B4C7E7"}, "encoding": {"x": {"datum": -0.8, "type": "quantitative", "scale": {"domain": [-2.258, 2.045], "nice": false, "zero": false}, "axis": null}, "x2": {"datum": 0.8}, "y": {"datum": 1.56, "type": "quantitative", "scale": {"domain": [-1.311, 1.583], "nice": false, "zero": false}, "axis": null}, "y2": {"datum": 1.325}}},
  {"data": {"values": [{"title": "MSCOCO_T2I"}]}, "mark": {"type": "text", "font": "Liberation Serif", "fontWeight": "bold", "fontSize": 10.5, "baseline": "middle", "color": "black"}, "encoding": {"x": {"datum": 0, "type": "quantitative", "scale": {"domain": [-2.258, 2.045], "nice": false, "zero": false}, "axis": null}, "y": {"datum": 1.443, "type": "quantitative", "scale": {"domain": [-1.311, 1.583], "nice": false, "zero": false}, "axis": null}, "text": {"field": "title"}}},
  {"data": {"name": "grid"}, "transform": [{"calculate": "(datum.ring-60)/40*sin(datum.k*2*PI/9)", "as": "x"}, {"calculate": "(datum.ring-60)/40*cos(datum.k*2*PI/9)", "as": "y"}], "mark": {"type": "line", "interpolate": "linear-closed", "color": "#8C8C8C", "strokeWidth": 0.9}, "encoding": {"x": {"field": "x", "type": "quantitative", "scale": {"domain": [-2.258, 2.045], "nice": false, "zero": false}, "axis": null}, "y": {"field": "y", "type": "quantitative", "scale": {"domain": [-1.311, 1.583], "nice": false, "zero": false}, "axis": null}, "detail": {"field": "ring", "type": "nominal"}, "order": {"field": "k", "type": "quantitative"}}},
  {"data": {"name": "ticks"}, "transform": [{"calculate": "0", "as": "x"}, {"calculate": "(datum.tick-60)/40", "as": "y"}], "mark": {"type": "text", "align": "right", "baseline": "middle", "dx": -6, "fontSize": 7.5, "fontWeight": "bold", "font": "Liberation Serif", "color": "black"}, "encoding": {"x": {"field": "x", "type": "quantitative", "scale": {"domain": [-2.258, 2.045], "nice": false, "zero": false}, "axis": null}, "y": {"field": "y", "type": "quantitative", "scale": {"domain": [-1.311, 1.583], "nice": false, "zero": false}, "axis": null}, "text": {"field": "tick", "type": "quantitative"}}},
  {"data": {"name": "axes"}, "transform": [{"filter": "datum.k==0"}, {"calculate": "1.1*sin(datum.k*2*PI/9)", "as": "x"}, {"calculate": "1.1*cos(datum.k*2*PI/9)", "as": "y"}], "mark": {"type": "text", "align": "center", "baseline": "middle", "dy": -3, "fontSize": 10.5, "fontWeight": "bold", "font": "Liberation Serif", "lineBreak": "\n", "lineHeight": 12.5, "color": "black"}, "encoding": {"x": {"field": "x", "type": "quantitative", "scale": {"domain": [-2.258, 2.045], "nice": false, "zero": false}, "axis": null}, "y": {"field": "y", "type": "quantitative", "scale": {"domain": [-1.311, 1.583], "nice": false, "zero": false}, "axis": null}, "text": {"field": "label"}}},
  {"data": {"name": "axes"}, "transform": [{"filter": "datum.k>=1 && datum.k<=4"}, {"calculate": "1.1*sin(datum.k*2*PI/9)", "as": "x"}, {"calculate": "1.1*cos(datum.k*2*PI/9)", "as": "y"}], "mark": {"type": "text", "align": "left", "baseline": "middle", "fontSize": 10.5, "fontWeight": "bold", "font": "Liberation Serif", "lineBreak": "\n", "lineHeight": 12.5, "color": "black"}, "encoding": {"x": {"field": "x", "type": "quantitative", "scale": {"domain": [-2.258, 2.045], "nice": false, "zero": false}, "axis": null}, "y": {"field": "y", "type": "quantitative", "scale": {"domain": [-1.311, 1.583], "nice": false, "zero": false}, "axis": null}, "text": {"field": "label"}}},
  {"data": {"name": "axes"}, "transform": [{"filter": "datum.k>=5"}, {"calculate": "1.1*sin(datum.k*2*PI/9)", "as": "x"}, {"calculate": "1.1*cos(datum.k*2*PI/9)", "as": "y"}], "mark": {"type": "text", "align": "right", "baseline": "middle", "fontSize": 10.5, "fontWeight": "bold", "font": "Liberation Serif", "lineBreak": "\n", "lineHeight": 12.5, "color": "black"}, "encoding": {"x": {"field": "x", "type": "quantitative", "scale": {"domain": [-2.258, 2.045], "nice": false, "zero": false}, "axis": null}, "y": {"field": "y", "type": "quantitative", "scale": {"domain": [-1.311, 1.583], "nice": false, "zero": false}, "axis": null}, "text": {"field": "label"}}},
  {"data": {"name": "scores"}, "transform": [{"filter": "datum.panel==='MSCOCO_T2I'"}, {"calculate": "indexof(['Entity Type','Entity Attribute','Entity Relationship','Entity Emotion','Scene Type','Scene Attribute','Event Category','Event Element','Style and Presentation'], datum.axis)", "as": "k"}, {"calculate": "(datum.value-60)/40*sin(datum.k*2*PI/9)", "as": "x"}, {"calculate": "(datum.value-60)/40*cos(datum.k*2*PI/9)", "as": "y"}], "mark": {"type": "line", "interpolate": "linear-closed", "strokeWidth": 1.3}, "encoding": {"x": {"field": "x", "type": "quantitative", "scale": {"domain": [-2.258, 2.045], "nice": false, "zero": false}, "axis": null}, "y": {"field": "y", "type": "quantitative", "scale": {"domain": [-1.311, 1.583], "nice": false, "zero": false}, "axis": null}, "color": {"field": "model", "type": "nominal", "scale": {"domain": ["Clip-vit-base-patch32","Clip-vit-large-patch14","Blip-itm-large-coco","GME-Qwen2-VL-2B-Instruct","BGE-VL-MLLM-S2","VLM2Vec-LLaVa-Next","UniME-LLaVA-1.6-7B","Ops-MM-embedding-v1-7B","Ezen-embed-v2-7b"], "range": ["#5B9BD5","#ED7D31","#FFC000","#4472C4","#255E91","#9E480E","#7030A0","#70AD47","#CC0000"]}, "legend": {"orient": "none", "legendX": 42, "legendY": 391.5, "columns": 3, "direction": "horizontal", "title": null, "symbolType": "M-1,-0.09H1V0.09H-1Z M-0.33,-0.33H0.33V0.33H-0.33Z"}}, "order": {"field": "k", "type": "quantitative"}}},
  {"data": {"name": "scores"}, "transform": [{"filter": "datum.panel==='MSCOCO_T2I'"}, {"calculate": "indexof(['Entity Type','Entity Attribute','Entity Relationship','Entity Emotion','Scene Type','Scene Attribute','Event Category','Event Element','Style and Presentation'], datum.axis)", "as": "k"}, {"calculate": "(datum.value-60)/40*sin(datum.k*2*PI/9)", "as": "x"}, {"calculate": "(datum.value-60)/40*cos(datum.k*2*PI/9)", "as": "y"}], "mark": {"type": "point", "shape": "square", "filled": true, "opacity": 1}, "encoding": {"x": {"field": "x", "type": "quantitative", "scale": {"domain": [-2.258, 2.045], "nice": false, "zero": false}, "axis": null}, "y": {"field": "y", "type": "quantitative", "scale": {"domain": [-1.311, 1.583], "nice": false, "zero": false}, "axis": null}, "color": {"field": "model", "type": "nominal", "scale": {"domain": ["Clip-vit-base-patch32","Clip-vit-large-patch14","Blip-itm-large-coco","GME-Qwen2-VL-2B-Instruct","BGE-VL-MLLM-S2","VLM2Vec-LLaVa-Next","UniME-LLaVA-1.6-7B","Ops-MM-embedding-v1-7B","Ezen-embed-v2-7b"], "range": ["#5B9BD5","#ED7D31","#FFC000","#4472C4","#255E91","#9E480E","#7030A0","#70AD47","#CC0000"]}, "legend": {"orient": "none", "legendX": 42, "legendY": 391.5, "columns": 3, "direction": "horizontal", "title": null, "symbolType": "M-1,-0.09H1V0.09H-1Z M-0.33,-0.33H0.33V0.33H-0.33Z"}}, "size": {"condition": {"test": "datum.model==='Ezen-embed-v2-7b'", "value": 24}, "value": 10}}}
 ]},
{"width": 284, "height": 191,
 "layer": [
  {"data": {"values": [{"title": "MSCOCO_I2T"}]}, "mark": {"type": "rect", "color": "#B4C7E7"}, "encoding": {"x": {"datum": -0.8, "type": "quantitative", "scale": {"domain": [-2.258, 2.045], "nice": false, "zero": false}, "axis": null}, "x2": {"datum": 0.8}, "y": {"datum": 1.56, "type": "quantitative", "scale": {"domain": [-1.311, 1.583], "nice": false, "zero": false}, "axis": null}, "y2": {"datum": 1.325}}},
  {"data": {"values": [{"title": "MSCOCO_I2T"}]}, "mark": {"type": "text", "font": "Liberation Serif", "fontWeight": "bold", "fontSize": 10.5, "baseline": "middle", "color": "black"}, "encoding": {"x": {"datum": 0, "type": "quantitative", "scale": {"domain": [-2.258, 2.045], "nice": false, "zero": false}, "axis": null}, "y": {"datum": 1.443, "type": "quantitative", "scale": {"domain": [-1.311, 1.583], "nice": false, "zero": false}, "axis": null}, "text": {"field": "title"}}},
  {"data": {"name": "grid"}, "transform": [{"calculate": "(datum.ring-60)/40*sin(datum.k*2*PI/9)", "as": "x"}, {"calculate": "(datum.ring-60)/40*cos(datum.k*2*PI/9)", "as": "y"}], "mark": {"type": "line", "interpolate": "linear-closed", "color": "#8C8C8C", "strokeWidth": 0.9}, "encoding": {"x": {"field": "x", "type": "quantitative", "scale": {"domain": [-2.258, 2.045], "nice": false, "zero": false}, "axis": null}, "y": {"field": "y", "type": "quantitative", "scale": {"domain": [-1.311, 1.583], "nice": false, "zero": false}, "axis": null}, "detail": {"field": "ring", "type": "nominal"}, "order": {"field": "k", "type": "quantitative"}}},
  {"data": {"name": "ticks"}, "transform": [{"calculate": "0", "as": "x"}, {"calculate": "(datum.tick-60)/40", "as": "y"}], "mark": {"type": "text", "align": "right", "baseline": "middle", "dx": -6, "fontSize": 7.5, "fontWeight": "bold", "font": "Liberation Serif", "color": "black"}, "encoding": {"x": {"field": "x", "type": "quantitative", "scale": {"domain": [-2.258, 2.045], "nice": false, "zero": false}, "axis": null}, "y": {"field": "y", "type": "quantitative", "scale": {"domain": [-1.311, 1.583], "nice": false, "zero": false}, "axis": null}, "text": {"field": "tick", "type": "quantitative"}}},
  {"data": {"name": "axes"}, "transform": [{"filter": "datum.k==0"}, {"calculate": "1.1*sin(datum.k*2*PI/9)", "as": "x"}, {"calculate": "1.1*cos(datum.k*2*PI/9)", "as": "y"}], "mark": {"type": "text", "align": "center", "baseline": "middle", "dy": -3, "fontSize": 10.5, "fontWeight": "bold", "font": "Liberation Serif", "lineBreak": "\n", "lineHeight": 12.5, "color": "black"}, "encoding": {"x": {"field": "x", "type": "quantitative", "scale": {"domain": [-2.258, 2.045], "nice": false, "zero": false}, "axis": null}, "y": {"field": "y", "type": "quantitative", "scale": {"domain": [-1.311, 1.583], "nice": false, "zero": false}, "axis": null}, "text": {"field": "label"}}},
  {"data": {"name": "axes"}, "transform": [{"filter": "datum.k>=1 && datum.k<=4"}, {"calculate": "1.1*sin(datum.k*2*PI/9)", "as": "x"}, {"calculate": "1.1*cos(datum.k*2*PI/9)", "as": "y"}], "mark": {"type": "text", "align": "left", "baseline": "middle", "fontSize": 10.5, "fontWeight": "bold", "font": "Liberation Serif", "lineBreak": "\n", "lineHeight": 12.5, "color": "black"}, "encoding": {"x": {"field": "x", "type": "quantitative", "scale": {"domain": [-2.258, 2.045], "nice": false, "zero": false}, "axis": null}, "y": {"field": "y", "type": "quantitative", "scale": {"domain": [-1.311, 1.583], "nice": false, "zero": false}, "axis": null}, "text": {"field": "label"}}},
  {"data": {"name": "axes"}, "transform": [{"filter": "datum.k>=5"}, {"calculate": "1.1*sin(datum.k*2*PI/9)", "as": "x"}, {"calculate": "1.1*cos(datum.k*2*PI/9)", "as": "y"}], "mark": {"type": "text", "align": "right", "baseline": "middle", "fontSize": 10.5, "fontWeight": "bold", "font": "Liberation Serif", "lineBreak": "\n", "lineHeight": 12.5, "color": "black"}, "encoding": {"x": {"field": "x", "type": "quantitative", "scale": {"domain": [-2.258, 2.045], "nice": false, "zero": false}, "axis": null}, "y": {"field": "y", "type": "quantitative", "scale": {"domain": [-1.311, 1.583], "nice": false, "zero": false}, "axis": null}, "text": {"field": "label"}}},
  {"data": {"name": "scores"}, "transform": [{"filter": "datum.panel==='MSCOCO_I2T'"}, {"calculate": "indexof(['Entity Type','Entity Attribute','Entity Relationship','Entity Emotion','Scene Type','Scene Attribute','Event Category','Event Element','Style and Presentation'], datum.axis)", "as": "k"}, {"calculate": "(datum.value-60)/40*sin(datum.k*2*PI/9)", "as": "x"}, {"calculate": "(datum.value-60)/40*cos(datum.k*2*PI/9)", "as": "y"}], "mark": {"type": "line", "interpolate": "linear-closed", "strokeWidth": 1.3}, "encoding": {"x": {"field": "x", "type": "quantitative", "scale": {"domain": [-2.258, 2.045], "nice": false, "zero": false}, "axis": null}, "y": {"field": "y", "type": "quantitative", "scale": {"domain": [-1.311, 1.583], "nice": false, "zero": false}, "axis": null}, "color": {"field": "model", "type": "nominal", "scale": {"domain": ["Clip-vit-base-patch32","Clip-vit-large-patch14","Blip-itm-large-coco","GME-Qwen2-VL-2B-Instruct","BGE-VL-MLLM-S2","VLM2Vec-LLaVa-Next","UniME-LLaVA-1.6-7B","Ops-MM-embedding-v1-7B","Ezen-embed-v2-7b"], "range": ["#5B9BD5","#ED7D31","#FFC000","#4472C4","#255E91","#9E480E","#7030A0","#70AD47","#CC0000"]}, "legend": {"orient": "none", "legendX": 42, "legendY": 391.5, "columns": 3, "direction": "horizontal", "title": null, "symbolType": "M-1,-0.09H1V0.09H-1Z M-0.33,-0.33H0.33V0.33H-0.33Z"}}, "order": {"field": "k", "type": "quantitative"}}},
  {"data": {"name": "scores"}, "transform": [{"filter": "datum.panel==='MSCOCO_I2T'"}, {"calculate": "indexof(['Entity Type','Entity Attribute','Entity Relationship','Entity Emotion','Scene Type','Scene Attribute','Event Category','Event Element','Style and Presentation'], datum.axis)", "as": "k"}, {"calculate": "(datum.value-60)/40*sin(datum.k*2*PI/9)", "as": "x"}, {"calculate": "(datum.value-60)/40*cos(datum.k*2*PI/9)", "as": "y"}], "mark": {"type": "point", "shape": "square", "filled": true, "opacity": 1}, "encoding": {"x": {"field": "x", "type": "quantitative", "scale": {"domain": [-2.258, 2.045], "nice": false, "zero": false}, "axis": null}, "y": {"field": "y", "type": "quantitative", "scale": {"domain": [-1.311, 1.583], "nice": false, "zero": false}, "axis": null}, "color": {"field": "model", "type": "nominal", "scale": {"domain": ["Clip-vit-base-patch32","Clip-vit-large-patch14","Blip-itm-large-coco","GME-Qwen2-VL-2B-Instruct","BGE-VL-MLLM-S2","VLM2Vec-LLaVa-Next","UniME-LLaVA-1.6-7B","Ops-MM-embedding-v1-7B","Ezen-embed-v2-7b"], "range": ["#5B9BD5","#ED7D31","#FFC000","#4472C4","#255E91","#9E480E","#7030A0","#70AD47","#CC0000"]}, "legend": {"orient": "none", "legendX": 42, "legendY": 391.5, "columns": 3, "direction": "horizontal", "title": null, "symbolType": "M-1,-0.09H1V0.09H-1Z M-0.33,-0.33H0.33V0.33H-0.33Z"}}, "size": {"condition": {"test": "datum.model==='Ezen-embed-v2-7b'", "value": 24}, "value": 10}}}
 ]}
]},
{"spacing": 0, "hconcat": [
{"width": 284, "height": 191,
 "layer": [
  {"data": {"values": [{"title": "Flickr30k_T2I"}]}, "mark": {"type": "rect", "color": "#B4C7E7"}, "encoding": {"x": {"datum": -0.8, "type": "quantitative", "scale": {"domain": [-2.258, 2.045], "nice": false, "zero": false}, "axis": null}, "x2": {"datum": 0.8}, "y": {"datum": 1.535, "type": "quantitative", "scale": {"domain": [-1.311, 1.583], "nice": false, "zero": false}, "axis": null}, "y2": {"datum": 1.3}}},
  {"data": {"values": [{"title": "Flickr30k_T2I"}]}, "mark": {"type": "text", "font": "Liberation Serif", "fontWeight": "bold", "fontSize": 10.5, "baseline": "middle", "color": "black"}, "encoding": {"x": {"datum": 0, "type": "quantitative", "scale": {"domain": [-2.258, 2.045], "nice": false, "zero": false}, "axis": null}, "y": {"datum": 1.418, "type": "quantitative", "scale": {"domain": [-1.311, 1.583], "nice": false, "zero": false}, "axis": null}, "text": {"field": "title"}}},
  {"data": {"name": "grid"}, "transform": [{"calculate": "(datum.ring-60)/40*sin(datum.k*2*PI/9)", "as": "x"}, {"calculate": "(datum.ring-60)/40*cos(datum.k*2*PI/9)", "as": "y"}], "mark": {"type": "line", "interpolate": "linear-closed", "color": "#8C8C8C", "strokeWidth": 0.9}, "encoding": {"x": {"field": "x", "type": "quantitative", "scale": {"domain": [-2.258, 2.045], "nice": false, "zero": false}, "axis": null}, "y": {"field": "y", "type": "quantitative", "scale": {"domain": [-1.311, 1.583], "nice": false, "zero": false}, "axis": null}, "detail": {"field": "ring", "type": "nominal"}, "order": {"field": "k", "type": "quantitative"}}},
  {"data": {"name": "ticks"}, "transform": [{"calculate": "0", "as": "x"}, {"calculate": "(datum.tick-60)/40", "as": "y"}], "mark": {"type": "text", "align": "right", "baseline": "middle", "dx": -6, "fontSize": 7.5, "fontWeight": "bold", "font": "Liberation Serif", "color": "black"}, "encoding": {"x": {"field": "x", "type": "quantitative", "scale": {"domain": [-2.258, 2.045], "nice": false, "zero": false}, "axis": null}, "y": {"field": "y", "type": "quantitative", "scale": {"domain": [-1.311, 1.583], "nice": false, "zero": false}, "axis": null}, "text": {"field": "tick", "type": "quantitative"}}},
  {"data": {"name": "axes"}, "transform": [{"filter": "datum.k==0"}, {"calculate": "1.1*sin(datum.k*2*PI/9)", "as": "x"}, {"calculate": "1.1*cos(datum.k*2*PI/9)", "as": "y"}], "mark": {"type": "text", "align": "center", "baseline": "middle", "dy": -3, "fontSize": 10.5, "fontWeight": "bold", "font": "Liberation Serif", "lineBreak": "\n", "lineHeight": 12.5, "color": "black"}, "encoding": {"x": {"field": "x", "type": "quantitative", "scale": {"domain": [-2.258, 2.045], "nice": false, "zero": false}, "axis": null}, "y": {"field": "y", "type": "quantitative", "scale": {"domain": [-1.311, 1.583], "nice": false, "zero": false}, "axis": null}, "text": {"field": "label"}}},
  {"data": {"name": "axes"}, "transform": [{"filter": "datum.k>=1 && datum.k<=4"}, {"calculate": "1.1*sin(datum.k*2*PI/9)", "as": "x"}, {"calculate": "1.1*cos(datum.k*2*PI/9)", "as": "y"}], "mark": {"type": "text", "align": "left", "baseline": "middle", "fontSize": 10.5, "fontWeight": "bold", "font": "Liberation Serif", "lineBreak": "\n", "lineHeight": 12.5, "color": "black"}, "encoding": {"x": {"field": "x", "type": "quantitative", "scale": {"domain": [-2.258, 2.045], "nice": false, "zero": false}, "axis": null}, "y": {"field": "y", "type": "quantitative", "scale": {"domain": [-1.311, 1.583], "nice": false, "zero": false}, "axis": null}, "text": {"field": "label"}}},
  {"data": {"name": "axes"}, "transform": [{"filter": "datum.k>=5"}, {"calculate": "1.1*sin(datum.k*2*PI/9)", "as": "x"}, {"calculate": "1.1*cos(datum.k*2*PI/9)", "as": "y"}], "mark": {"type": "text", "align": "right", "baseline": "middle", "fontSize": 10.5, "fontWeight": "bold", "font": "Liberation Serif", "lineBreak": "\n", "lineHeight": 12.5, "color": "black"}, "encoding": {"x": {"field": "x", "type": "quantitative", "scale": {"domain": [-2.258, 2.045], "nice": false, "zero": false}, "axis": null}, "y": {"field": "y", "type": "quantitative", "scale": {"domain": [-1.311, 1.583], "nice": false, "zero": false}, "axis": null}, "text": {"field": "label"}}},
  {"data": {"name": "scores"}, "transform": [{"filter": "datum.panel==='Flickr30k_T2I'"}, {"calculate": "indexof(['Entity Type','Entity Attribute','Entity Relationship','Entity Emotion','Scene Type','Scene Attribute','Event Category','Event Element','Style and Presentation'], datum.axis)", "as": "k"}, {"calculate": "(datum.value-60)/40*sin(datum.k*2*PI/9)", "as": "x"}, {"calculate": "(datum.value-60)/40*cos(datum.k*2*PI/9)", "as": "y"}], "mark": {"type": "line", "interpolate": "linear-closed", "strokeWidth": 1.3}, "encoding": {"x": {"field": "x", "type": "quantitative", "scale": {"domain": [-2.258, 2.045], "nice": false, "zero": false}, "axis": null}, "y": {"field": "y", "type": "quantitative", "scale": {"domain": [-1.311, 1.583], "nice": false, "zero": false}, "axis": null}, "color": {"field": "model", "type": "nominal", "scale": {"domain": ["Clip-vit-base-patch32","Clip-vit-large-patch14","Blip-itm-large-coco","GME-Qwen2-VL-2B-Instruct","BGE-VL-MLLM-S2","VLM2Vec-LLaVa-Next","UniME-LLaVA-1.6-7B","Ops-MM-embedding-v1-7B","Ezen-embed-v2-7b"], "range": ["#5B9BD5","#ED7D31","#FFC000","#4472C4","#255E91","#9E480E","#7030A0","#70AD47","#CC0000"]}, "legend": {"orient": "none", "legendX": 42, "legendY": 391.5, "columns": 3, "direction": "horizontal", "title": null, "symbolType": "M-1,-0.09H1V0.09H-1Z M-0.33,-0.33H0.33V0.33H-0.33Z"}}, "order": {"field": "k", "type": "quantitative"}}},
  {"data": {"name": "scores"}, "transform": [{"filter": "datum.panel==='Flickr30k_T2I'"}, {"calculate": "indexof(['Entity Type','Entity Attribute','Entity Relationship','Entity Emotion','Scene Type','Scene Attribute','Event Category','Event Element','Style and Presentation'], datum.axis)", "as": "k"}, {"calculate": "(datum.value-60)/40*sin(datum.k*2*PI/9)", "as": "x"}, {"calculate": "(datum.value-60)/40*cos(datum.k*2*PI/9)", "as": "y"}], "mark": {"type": "point", "shape": "square", "filled": true, "opacity": 1}, "encoding": {"x": {"field": "x", "type": "quantitative", "scale": {"domain": [-2.258, 2.045], "nice": false, "zero": false}, "axis": null}, "y": {"field": "y", "type": "quantitative", "scale": {"domain": [-1.311, 1.583], "nice": false, "zero": false}, "axis": null}, "color": {"field": "model", "type": "nominal", "scale": {"domain": ["Clip-vit-base-patch32","Clip-vit-large-patch14","Blip-itm-large-coco","GME-Qwen2-VL-2B-Instruct","BGE-VL-MLLM-S2","VLM2Vec-LLaVa-Next","UniME-LLaVA-1.6-7B","Ops-MM-embedding-v1-7B","Ezen-embed-v2-7b"], "range": ["#5B9BD5","#ED7D31","#FFC000","#4472C4","#255E91","#9E480E","#7030A0","#70AD47","#CC0000"]}, "legend": {"orient": "none", "legendX": 42, "legendY": 391.5, "columns": 3, "direction": "horizontal", "title": null, "symbolType": "M-1,-0.09H1V0.09H-1Z M-0.33,-0.33H0.33V0.33H-0.33Z"}}, "size": {"condition": {"test": "datum.model==='Ezen-embed-v2-7b'", "value": 24}, "value": 10}}}
 ]},
{"width": 284, "height": 191,
 "layer": [
  {"data": {"values": [{"title": "Flickr30k_I2T"}]}, "mark": {"type": "rect", "color": "#B4C7E7"}, "encoding": {"x": {"datum": -0.8, "type": "quantitative", "scale": {"domain": [-2.258, 2.045], "nice": false, "zero": false}, "axis": null}, "x2": {"datum": 0.8}, "y": {"datum": 1.535, "type": "quantitative", "scale": {"domain": [-1.311, 1.583], "nice": false, "zero": false}, "axis": null}, "y2": {"datum": 1.3}}},
  {"data": {"values": [{"title": "Flickr30k_I2T"}]}, "mark": {"type": "text", "font": "Liberation Serif", "fontWeight": "bold", "fontSize": 10.5, "baseline": "middle", "color": "black"}, "encoding": {"x": {"datum": 0, "type": "quantitative", "scale": {"domain": [-2.258, 2.045], "nice": false, "zero": false}, "axis": null}, "y": {"datum": 1.418, "type": "quantitative", "scale": {"domain": [-1.311, 1.583], "nice": false, "zero": false}, "axis": null}, "text": {"field": "title"}}},
  {"data": {"name": "grid"}, "transform": [{"calculate": "(datum.ring-60)/40*sin(datum.k*2*PI/9)", "as": "x"}, {"calculate": "(datum.ring-60)/40*cos(datum.k*2*PI/9)", "as": "y"}], "mark": {"type": "line", "interpolate": "linear-closed", "color": "#8C8C8C", "strokeWidth": 0.9}, "encoding": {"x": {"field": "x", "type": "quantitative", "scale": {"domain": [-2.258, 2.045], "nice": false, "zero": false}, "axis": null}, "y": {"field": "y", "type": "quantitative", "scale": {"domain": [-1.311, 1.583], "nice": false, "zero": false}, "axis": null}, "detail": {"field": "ring", "type": "nominal"}, "order": {"field": "k", "type": "quantitative"}}},
  {"data": {"name": "ticks"}, "transform": [{"calculate": "0", "as": "x"}, {"calculate": "(datum.tick-60)/40", "as": "y"}], "mark": {"type": "text", "align": "right", "baseline": "middle", "dx": -6, "fontSize": 7.5, "fontWeight": "bold", "font": "Liberation Serif", "color": "black"}, "encoding": {"x": {"field": "x", "type": "quantitative", "scale": {"domain": [-2.258, 2.045], "nice": false, "zero": false}, "axis": null}, "y": {"field": "y", "type": "quantitative", "scale": {"domain": [-1.311, 1.583], "nice": false, "zero": false}, "axis": null}, "text": {"field": "tick", "type": "quantitative"}}},
  {"data": {"name": "axes"}, "transform": [{"filter": "datum.k==0"}, {"calculate": "1.1*sin(datum.k*2*PI/9)", "as": "x"}, {"calculate": "1.1*cos(datum.k*2*PI/9)", "as": "y"}], "mark": {"type": "text", "align": "center", "baseline": "middle", "dy": -3, "fontSize": 10.5, "fontWeight": "bold", "font": "Liberation Serif", "lineBreak": "\n", "lineHeight": 12.5, "color": "black"}, "encoding": {"x": {"field": "x", "type": "quantitative", "scale": {"domain": [-2.258, 2.045], "nice": false, "zero": false}, "axis": null}, "y": {"field": "y", "type": "quantitative", "scale": {"domain": [-1.311, 1.583], "nice": false, "zero": false}, "axis": null}, "text": {"field": "label"}}},
  {"data": {"name": "axes"}, "transform": [{"filter": "datum.k>=1 && datum.k<=4"}, {"calculate": "1.1*sin(datum.k*2*PI/9)", "as": "x"}, {"calculate": "1.1*cos(datum.k*2*PI/9)", "as": "y"}], "mark": {"type": "text", "align": "left", "baseline": "middle", "fontSize": 10.5, "fontWeight": "bold", "font": "Liberation Serif", "lineBreak": "\n", "lineHeight": 12.5, "color": "black"}, "encoding": {"x": {"field": "x", "type": "quantitative", "scale": {"domain": [-2.258, 2.045], "nice": false, "zero": false}, "axis": null}, "y": {"field": "y", "type": "quantitative", "scale": {"domain": [-1.311, 1.583], "nice": false, "zero": false}, "axis": null}, "text": {"field": "label"}}},
  {"data": {"name": "axes"}, "transform": [{"filter": "datum.k>=5"}, {"calculate": "1.1*sin(datum.k*2*PI/9)", "as": "x"}, {"calculate": "1.1*cos(datum.k*2*PI/9)", "as": "y"}], "mark": {"type": "text", "align": "right", "baseline": "middle", "fontSize": 10.5, "fontWeight": "bold", "font": "Liberation Serif", "lineBreak": "\n", "lineHeight": 12.5, "color": "black"}, "encoding": {"x": {"field": "x", "type": "quantitative", "scale": {"domain": [-2.258, 2.045], "nice": false, "zero": false}, "axis": null}, "y": {"field": "y", "type": "quantitative", "scale": {"domain": [-1.311, 1.583], "nice": false, "zero": false}, "axis": null}, "text": {"field": "label"}}},
  {"data": {"name": "scores"}, "transform": [{"filter": "datum.panel==='Flickr30k_I2T'"}, {"calculate": "indexof(['Entity Type','Entity Attribute','Entity Relationship','Entity Emotion','Scene Type','Scene Attribute','Event Category','Event Element','Style and Presentation'], datum.axis)", "as": "k"}, {"calculate": "(datum.value-60)/40*sin(datum.k*2*PI/9)", "as": "x"}, {"calculate": "(datum.value-60)/40*cos(datum.k*2*PI/9)", "as": "y"}], "mark": {"type": "line", "interpolate": "linear-closed", "strokeWidth": 1.3}, "encoding": {"x": {"field": "x", "type": "quantitative", "scale": {"domain": [-2.258, 2.045], "nice": false, "zero": false}, "axis": null}, "y": {"field": "y", "type": "quantitative", "scale": {"domain": [-1.311, 1.583], "nice": false, "zero": false}, "axis": null}, "color": {"field": "model", "type": "nominal", "scale": {"domain": ["Clip-vit-base-patch32","Clip-vit-large-patch14","Blip-itm-large-coco","GME-Qwen2-VL-2B-Instruct","BGE-VL-MLLM-S2","VLM2Vec-LLaVa-Next","UniME-LLaVA-1.6-7B","Ops-MM-embedding-v1-7B","Ezen-embed-v2-7b"], "range": ["#5B9BD5","#ED7D31","#FFC000","#4472C4","#255E91","#9E480E","#7030A0","#70AD47","#CC0000"]}, "legend": {"orient": "none", "legendX": 42, "legendY": 391.5, "columns": 3, "direction": "horizontal", "title": null, "symbolType": "M-1,-0.09H1V0.09H-1Z M-0.33,-0.33H0.33V0.33H-0.33Z"}}, "order": {"field": "k", "type": "quantitative"}}},
  {"data": {"name": "scores"}, "transform": [{"filter": "datum.panel==='Flickr30k_I2T'"}, {"calculate": "indexof(['Entity Type','Entity Attribute','Entity Relationship','Entity Emotion','Scene Type','Scene Attribute','Event Category','Event Element','Style and Presentation'], datum.axis)", "as": "k"}, {"calculate": "(datum.value-60)/40*sin(datum.k*2*PI/9)", "as": "x"}, {"calculate": "(datum.value-60)/40*cos(datum.k*2*PI/9)", "as": "y"}], "mark": {"type": "point", "shape": "square", "filled": true, "opacity": 1}, "encoding": {"x": {"field": "x", "type": "quantitative", "scale": {"domain": [-2.258, 2.045], "nice": false, "zero": false}, "axis": null}, "y": {"field": "y", "type": "quantitative", "scale": {"domain": [-1.311, 1.583], "nice": false, "zero": false}, "axis": null}, "color": {"field": "model", "type": "nominal", "scale": {"domain": ["Clip-vit-base-patch32","Clip-vit-large-patch14","Blip-itm-large-coco","GME-Qwen2-VL-2B-Instruct","BGE-VL-MLLM-S2","VLM2Vec-LLaVa-Next","UniME-LLaVA-1.6-7B","Ops-MM-embedding-v1-7B","Ezen-embed-v2-7b"], "range": ["#5B9BD5","#ED7D31","#FFC000","#4472C4","#255E91","#9E480E","#7030A0","#70AD47","#CC0000"]}, "legend": {"orient": "none", "legendX": 42, "legendY": 391.5, "columns": 3, "direction": "horizontal", "title": null, "symbolType": "M-1,-0.09H1V0.09H-1Z M-0.33,-0.33H0.33V0.33H-0.33Z"}}, "size": {"condition": {"test": "datum.model==='Ezen-embed-v2-7b'", "value": 24}, "value": 10}}}
 ]}
]}
]
}
